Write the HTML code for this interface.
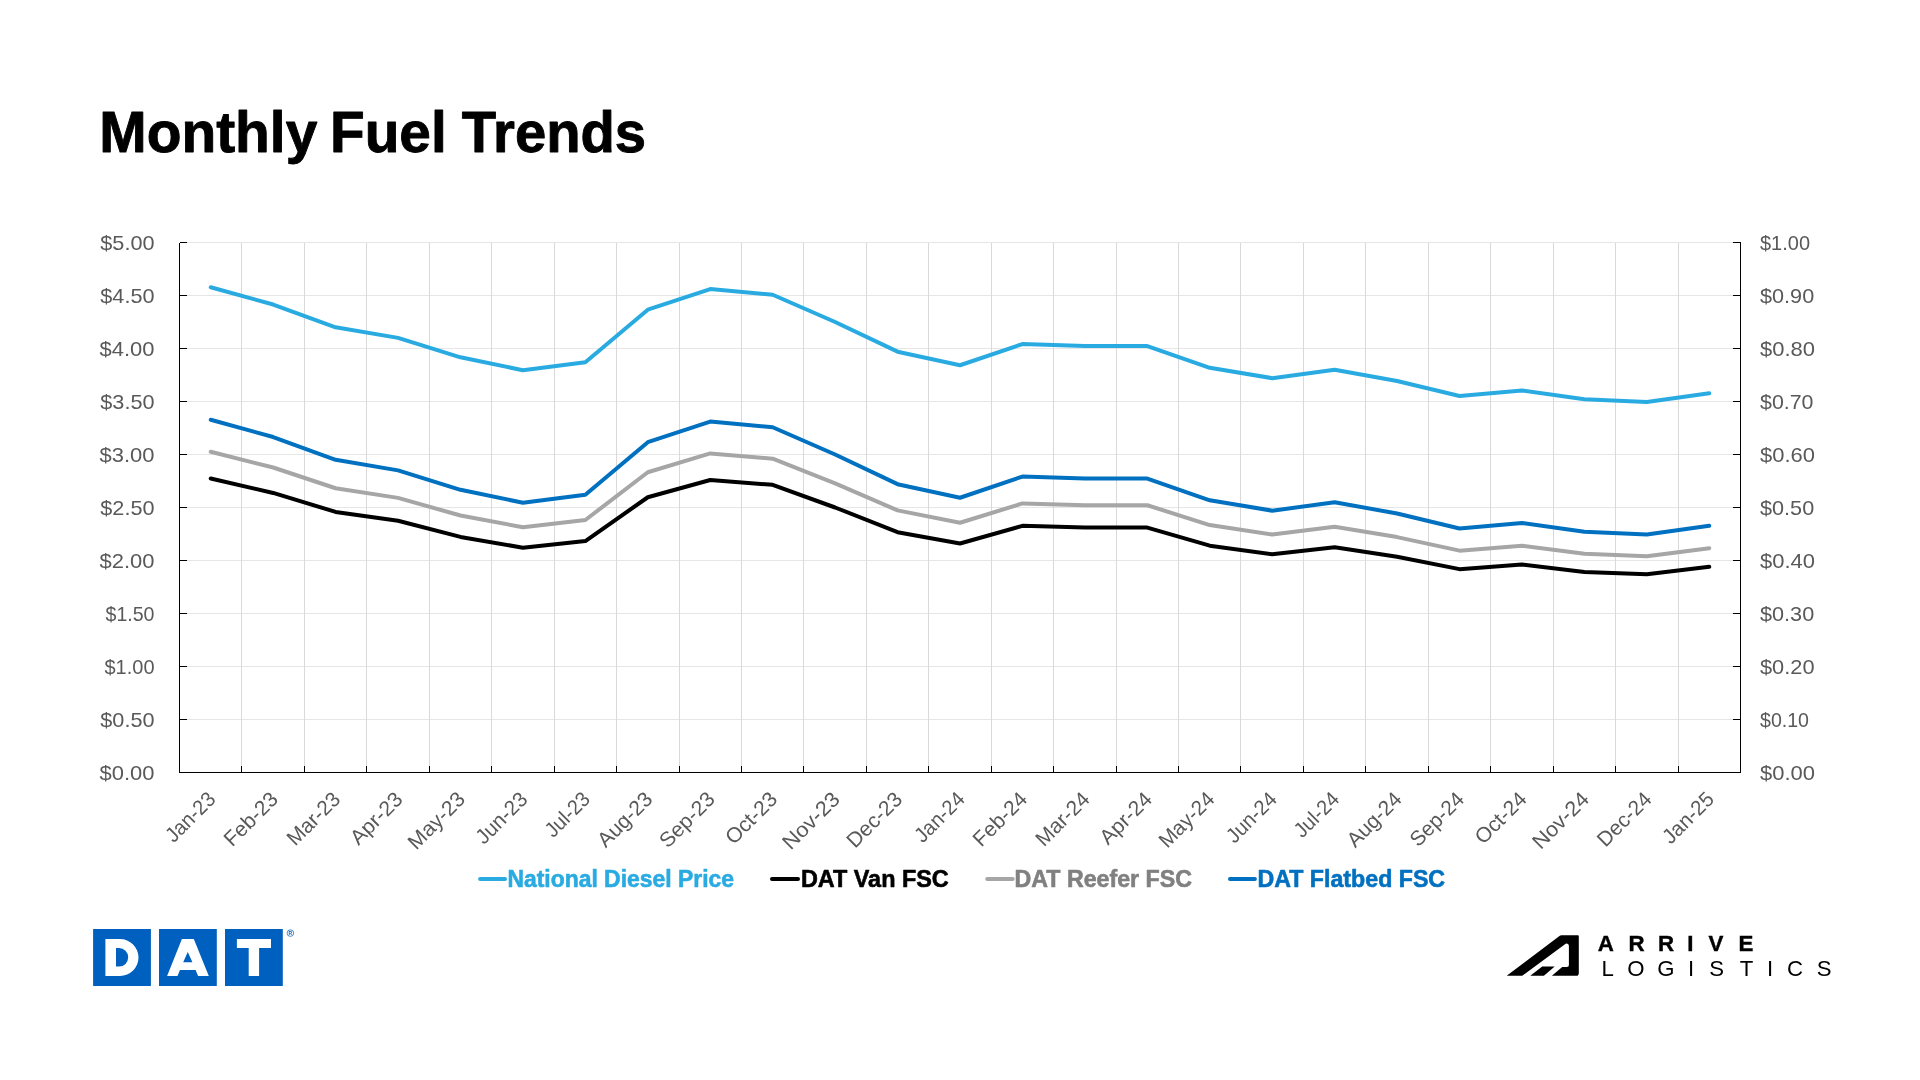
<!DOCTYPE html>
<html lang="en"><head><meta charset="utf-8"><title>Monthly Fuel Trends</title>
<style>html,body{margin:0;padding:0;background:#fff;}body{width:1920px;height:1080px;overflow:hidden;}svg{display:block;will-change:transform;transform:translateZ(0);}text{font-family:"Liberation Sans",sans-serif;}</style>
</head><body>
<svg width="1920" height="1080" viewBox="0 0 1920 1080">
<rect width="1920" height="1080" fill="#ffffff"/>
<g font-size="57" font-weight="bold" fill="#000" stroke="#000" stroke-width="0.9" stroke-linejoin="round">
<text x="99.3" y="151.9" textLength="218" lengthAdjust="spacingAndGlyphs">Monthly</text>
<text x="330" y="151.9" textLength="116.7" lengthAdjust="spacingAndGlyphs">Fuel</text>
<text x="461.8" y="151.9" textLength="184.3" lengthAdjust="spacingAndGlyphs">Trends</text>
</g>
<path d="M179.5 242.50H1740.5M179.5 295.50H1740.5M179.5 348.50H1740.5M179.5 401.50H1740.5M179.5 454.50H1740.5M179.5 507.50H1740.5M179.5 560.50H1740.5M179.5 613.50H1740.5M179.5 666.50H1740.5M179.5 719.50H1740.5" stroke="#e6e6e6" stroke-width="1" fill="none" shape-rendering="crispEdges"/>
<path d="M241.94 242.5V772.5M304.38 242.5V772.5M366.82 242.5V772.5M429.26 242.5V772.5M491.70 242.5V772.5M554.14 242.5V772.5M616.58 242.5V772.5M679.02 242.5V772.5M741.46 242.5V772.5M803.90 242.5V772.5M866.34 242.5V772.5M928.78 242.5V772.5M991.22 242.5V772.5M1053.66 242.5V772.5M1116.10 242.5V772.5M1178.54 242.5V772.5M1240.98 242.5V772.5M1303.42 242.5V772.5M1365.86 242.5V772.5M1428.30 242.5V772.5M1490.74 242.5V772.5M1553.18 242.5V772.5M1615.62 242.5V772.5M1678.06 242.5V772.5" stroke="#d9d9d9" stroke-width="1" fill="none" shape-rendering="crispEdges"/>
<path d="M179.5 242.5V772.5H1740.5V242.5M179.5 242.50h7.5M1740.5 242.50h-7.5M179.5 295.50h7.5M1740.5 295.50h-7.5M179.5 348.50h7.5M1740.5 348.50h-7.5M179.5 401.50h7.5M1740.5 401.50h-7.5M179.5 454.50h7.5M1740.5 454.50h-7.5M179.5 507.50h7.5M1740.5 507.50h-7.5M179.5 560.50h7.5M1740.5 560.50h-7.5M179.5 613.50h7.5M1740.5 613.50h-7.5M179.5 666.50h7.5M1740.5 666.50h-7.5M179.5 719.50h7.5M1740.5 719.50h-7.5M179.5 772.50h7.5M1740.5 772.50h-7.5M241.94 772.5v-6.5M304.38 772.5v-6.5M366.82 772.5v-6.5M429.26 772.5v-6.5M491.70 772.5v-6.5M554.14 772.5v-6.5M616.58 772.5v-6.5M679.02 772.5v-6.5M741.46 772.5v-6.5M803.90 772.5v-6.5M866.34 772.5v-6.5M928.78 772.5v-6.5M991.22 772.5v-6.5M1053.66 772.5v-6.5M1116.10 772.5v-6.5M1178.54 772.5v-6.5M1240.98 772.5v-6.5M1303.42 772.5v-6.5M1365.86 772.5v-6.5M1428.30 772.5v-6.5M1490.74 772.5v-6.5M1553.18 772.5v-6.5M1615.62 772.5v-6.5M1678.06 772.5v-6.5" stroke="#000" stroke-width="1" fill="none" shape-rendering="crispEdges"/>
<g font-size="21" fill="#595959">
<text x="154.5" y="250.10" text-anchor="end" textLength="54.2" lengthAdjust="spacingAndGlyphs">$5.00</text>
<text x="154.5" y="303.10" text-anchor="end" textLength="54.2" lengthAdjust="spacingAndGlyphs">$4.50</text>
<text x="154.5" y="356.10" text-anchor="end" textLength="55" lengthAdjust="spacingAndGlyphs">$4.00</text>
<text x="154.5" y="409.10" text-anchor="end" textLength="54.2" lengthAdjust="spacingAndGlyphs">$3.50</text>
<text x="154.5" y="462.10" text-anchor="end" textLength="55" lengthAdjust="spacingAndGlyphs">$3.00</text>
<text x="154.5" y="515.10" text-anchor="end" textLength="54.2" lengthAdjust="spacingAndGlyphs">$2.50</text>
<text x="154.5" y="568.10" text-anchor="end" textLength="55" lengthAdjust="spacingAndGlyphs">$2.00</text>
<text x="154.5" y="621.10" text-anchor="end" textLength="49" lengthAdjust="spacingAndGlyphs">$1.50</text>
<text x="154.5" y="674.10" text-anchor="end" textLength="50" lengthAdjust="spacingAndGlyphs">$1.00</text>
<text x="154.5" y="727.10" text-anchor="end" textLength="54.2" lengthAdjust="spacingAndGlyphs">$0.50</text>
<text x="154.5" y="780.10" text-anchor="end" textLength="55" lengthAdjust="spacingAndGlyphs">$0.00</text>
<text x="1760" y="250.10" textLength="50" lengthAdjust="spacingAndGlyphs">$1.00</text>
<text x="1760" y="303.10" textLength="54.2" lengthAdjust="spacingAndGlyphs">$0.90</text>
<text x="1760" y="356.10" textLength="55" lengthAdjust="spacingAndGlyphs">$0.80</text>
<text x="1760" y="409.10" textLength="53.5" lengthAdjust="spacingAndGlyphs">$0.70</text>
<text x="1760" y="462.10" textLength="55" lengthAdjust="spacingAndGlyphs">$0.60</text>
<text x="1760" y="515.10" textLength="54.2" lengthAdjust="spacingAndGlyphs">$0.50</text>
<text x="1760" y="568.10" textLength="55" lengthAdjust="spacingAndGlyphs">$0.40</text>
<text x="1760" y="621.10" textLength="54.2" lengthAdjust="spacingAndGlyphs">$0.30</text>
<text x="1760" y="674.10" textLength="54.5" lengthAdjust="spacingAndGlyphs">$0.20</text>
<text x="1760" y="727.10" textLength="49" lengthAdjust="spacingAndGlyphs">$0.10</text>
<text x="1760" y="780.10" textLength="55" lengthAdjust="spacingAndGlyphs">$0.00</text>
<text transform="translate(216.72 800.50) rotate(-45)" text-anchor="end" textLength="60.9" lengthAdjust="spacingAndGlyphs">Jan-23</text>
<text transform="translate(279.16 800.50) rotate(-45)" text-anchor="end" textLength="66.5" lengthAdjust="spacingAndGlyphs">Feb-23</text>
<text transform="translate(341.60 800.50) rotate(-45)" text-anchor="end" textLength="65.5" lengthAdjust="spacingAndGlyphs">Mar-23</text>
<text transform="translate(404.04 800.50) rotate(-45)" text-anchor="end" textLength="64.5" lengthAdjust="spacingAndGlyphs">Apr-23</text>
<text transform="translate(466.48 800.50) rotate(-45)" text-anchor="end" textLength="70.9" lengthAdjust="spacingAndGlyphs">May-23</text>
<text transform="translate(528.92 800.50) rotate(-45)" text-anchor="end" textLength="63.4" lengthAdjust="spacingAndGlyphs">Jun-23</text>
<text transform="translate(591.36 800.50) rotate(-45)" text-anchor="end" textLength="53.8" lengthAdjust="spacingAndGlyphs">Jul-23</text>
<text transform="translate(653.80 800.50) rotate(-45)" text-anchor="end" textLength="67.8" lengthAdjust="spacingAndGlyphs">Aug-23</text>
<text transform="translate(716.24 800.50) rotate(-45)" text-anchor="end" textLength="68.7" lengthAdjust="spacingAndGlyphs">Sep-23</text>
<text transform="translate(778.68 800.50) rotate(-45)" text-anchor="end" textLength="63.6" lengthAdjust="spacingAndGlyphs">Oct-23</text>
<text transform="translate(841.12 800.50) rotate(-45)" text-anchor="end" textLength="71.1" lengthAdjust="spacingAndGlyphs">Nov-23</text>
<text transform="translate(903.56 800.50) rotate(-45)" text-anchor="end" textLength="68.7" lengthAdjust="spacingAndGlyphs">Dec-23</text>
<text transform="translate(966.00 800.50) rotate(-45)" text-anchor="end" textLength="61.1" lengthAdjust="spacingAndGlyphs">Jan-24</text>
<text transform="translate(1028.44 800.50) rotate(-45)" text-anchor="end" textLength="66.7" lengthAdjust="spacingAndGlyphs">Feb-24</text>
<text transform="translate(1090.88 800.50) rotate(-45)" text-anchor="end" textLength="66.3" lengthAdjust="spacingAndGlyphs">Mar-24</text>
<text transform="translate(1153.32 800.50) rotate(-45)" text-anchor="end" textLength="64.0" lengthAdjust="spacingAndGlyphs">Apr-24</text>
<text transform="translate(1215.76 800.50) rotate(-45)" text-anchor="end" textLength="68.7" lengthAdjust="spacingAndGlyphs">May-24</text>
<text transform="translate(1278.20 800.50) rotate(-45)" text-anchor="end" textLength="61.8" lengthAdjust="spacingAndGlyphs">Jun-24</text>
<text transform="translate(1340.64 800.50) rotate(-45)" text-anchor="end" textLength="54.2" lengthAdjust="spacingAndGlyphs">Jul-24</text>
<text transform="translate(1403.08 800.50) rotate(-45)" text-anchor="end" textLength="67.8" lengthAdjust="spacingAndGlyphs">Aug-24</text>
<text transform="translate(1465.52 800.50) rotate(-45)" text-anchor="end" textLength="66.9" lengthAdjust="spacingAndGlyphs">Sep-24</text>
<text transform="translate(1527.96 800.50) rotate(-45)" text-anchor="end" textLength="63.2" lengthAdjust="spacingAndGlyphs">Oct-24</text>
<text transform="translate(1590.40 800.50) rotate(-45)" text-anchor="end" textLength="70.4" lengthAdjust="spacingAndGlyphs">Nov-24</text>
<text transform="translate(1652.84 800.50) rotate(-45)" text-anchor="end" textLength="67.0" lengthAdjust="spacingAndGlyphs">Dec-24</text>
<text transform="translate(1715.28 800.50) rotate(-45)" text-anchor="end" textLength="62.9" lengthAdjust="spacingAndGlyphs">Jan-25</text>
</g>
<polyline points="210.72,287.23 273.16,304.51 335.60,327.30 398.04,337.90 460.48,357.30 522.92,370.23 585.36,362.28 647.80,309.70 710.24,289.03 772.68,294.76 835.12,322.00 897.56,351.68 960.00,365.25 1022.44,344.05 1084.88,346.06 1147.32,346.06 1209.76,367.79 1272.20,378.18 1334.64,369.70 1397.08,381.04 1459.52,395.99 1521.96,390.48 1584.40,399.27 1646.84,402.03 1709.28,393.23" fill="none" stroke="#29abe2" stroke-width="4" stroke-linecap="round" stroke-linejoin="round"/>
<polyline points="210.72,478.53 273.16,492.93 335.60,511.92 398.04,520.75 460.48,536.91 522.92,547.69 585.36,541.07 647.80,497.25 710.24,480.03 772.68,484.80 835.12,507.50 897.56,532.23 960.00,543.54 1022.44,525.87 1084.88,527.55 1147.32,527.55 1209.76,545.66 1272.20,554.32 1334.64,547.25 1397.08,556.70 1459.52,569.16 1521.96,564.56 1584.40,571.89 1646.84,574.19 1709.28,566.86" fill="none" stroke="#000000" stroke-width="4" stroke-linecap="round" stroke-linejoin="round"/>
<polyline points="210.72,451.80 273.16,467.51 335.60,488.23 398.04,497.86 460.48,515.50 522.92,527.25 585.36,520.03 647.80,472.23 710.24,453.44 772.68,458.64 835.12,483.41 897.56,510.39 960.00,522.73 1022.44,503.45 1084.88,505.28 1147.32,505.28 1209.76,525.04 1272.20,534.48 1334.64,526.77 1397.08,537.08 1459.52,550.67 1521.96,545.66 1584.40,553.66 1646.84,556.16 1709.28,548.17" fill="none" stroke="#a6a6a6" stroke-width="4" stroke-linecap="round" stroke-linejoin="round"/>
<polyline points="210.72,419.73 273.16,437.01 335.60,459.80 398.04,470.40 460.48,489.80 522.92,502.73 585.36,494.78 647.80,442.20 710.24,421.53 772.68,427.26 835.12,454.50 897.56,484.18 960.00,497.75 1022.44,476.55 1084.88,478.56 1147.32,478.56 1209.76,500.29 1272.20,510.68 1334.64,502.20 1397.08,513.54 1459.52,528.49 1521.96,522.98 1584.40,531.77 1646.84,534.53 1709.28,525.73" fill="none" stroke="#0070c0" stroke-width="4" stroke-linecap="round" stroke-linejoin="round"/>
<g font-size="23.8" font-weight="bold">
<line x1="480.1" y1="879" x2="505" y2="879" stroke="#29abe2" stroke-width="4" stroke-linecap="round"/>
<text x="507.4" y="887" fill="#29abe2" stroke="#29abe2" stroke-width="0.6" stroke-linejoin="round" textLength="226.6" lengthAdjust="spacingAndGlyphs">National Diesel Price</text>
<line x1="772" y1="879" x2="798" y2="879" stroke="#000000" stroke-width="4" stroke-linecap="round"/>
<text x="800.9" y="887" fill="#000000" stroke="#000000" stroke-width="0.6" stroke-linejoin="round" textLength="147.9" lengthAdjust="spacingAndGlyphs">DAT Van FSC</text>
<line x1="987.2" y1="879" x2="1012.7" y2="879" stroke="#a6a6a6" stroke-width="4" stroke-linecap="round"/>
<text x="1014.5" y="887" fill="#808080" stroke="#808080" stroke-width="0.6" stroke-linejoin="round" textLength="177.5" lengthAdjust="spacingAndGlyphs">DAT Reefer FSC</text>
<line x1="1230" y1="879" x2="1254.9" y2="879" stroke="#0070c0" stroke-width="4" stroke-linecap="round"/>
<text x="1257.5" y="887" fill="#0070c0" stroke="#0070c0" stroke-width="0.6" stroke-linejoin="round" textLength="187.6" lengthAdjust="spacingAndGlyphs">DAT Flatbed FSC</text>
</g>
<g>
<path d="M93.1 929.1h57.8v56.8h-57.8zM159 929.1h57.8v56.8h-57.8zM225 929.1h57.8v56.8h-57.8z" fill="#0060bf"/>
<path fill="#fff" fill-rule="evenodd" d="M105.4 939.1H120A18.5 18.45 0 0 1 120 976H105.4ZM116 948.1H119A9.2 9.25 0 0 1 119 966.6H116Z"/>
<path fill="#fff" fill-rule="evenodd" d="M181.9 939.1H193.8L208.8 976H198.1L195.6 970H180L177.5 976H167.1ZM187.8 951.9L183.2 962.2H192.4Z"/>
<path fill="#fff" d="M236.9 939.1H271V948.1H259.1V976H248.7V948.1H236.9Z"/>
<circle cx="290.4" cy="933.1" r="3.3" fill="none" stroke="#0060bf" stroke-width="0.7"/>
<text x="290.4" y="934.9" font-size="5" font-weight="bold" fill="#0060bf" text-anchor="middle">R</text>
</g>
<g fill="#000">
<path d="M1561.2 935.3H1577.9Q1578.8 935.3 1578.8 936.2V972.9Q1578.8 975.7 1576.6 975.7H1551.9L1562.2 966.9H1567Q1568.9 966.9 1568.9 965V946.2Q1568.9 943.6 1566.3 943.6Q1565.8 943.6 1565 944.2L1522.2 975.7H1506.7L1559.8 935.8Q1560.5 935.3 1561.2 935.3Z"/>
<path d="M1530.3 975.7H1543.9L1554.7 966.4H1542.2Z"/>
<g font-size="22.3" font-weight="bold" text-anchor="middle" stroke="#000" stroke-width="0.4"><text x="1605.8" y="951.2">A</text><text x="1636.6" y="951.2">R</text><text x="1666.0" y="951.2">R</text><text x="1690.45" y="951.2">I</text><text x="1716.0" y="951.2">V</text><text x="1746.0" y="951.2">E</text></g>
<g font-size="22.2" text-anchor="middle"><text x="1607.6" y="975.6">L</text><text x="1635.9" y="975.6">O</text><text x="1666.0" y="975.6">G</text><text x="1691.2" y="975.6">I</text><text x="1716.6" y="975.6">S</text><text x="1746.5" y="975.6">T</text><text x="1770.0" y="975.6">I</text><text x="1795.0" y="975.6">C</text><text x="1824.2" y="975.6">S</text></g>
</g>
</svg>
</body></html>
